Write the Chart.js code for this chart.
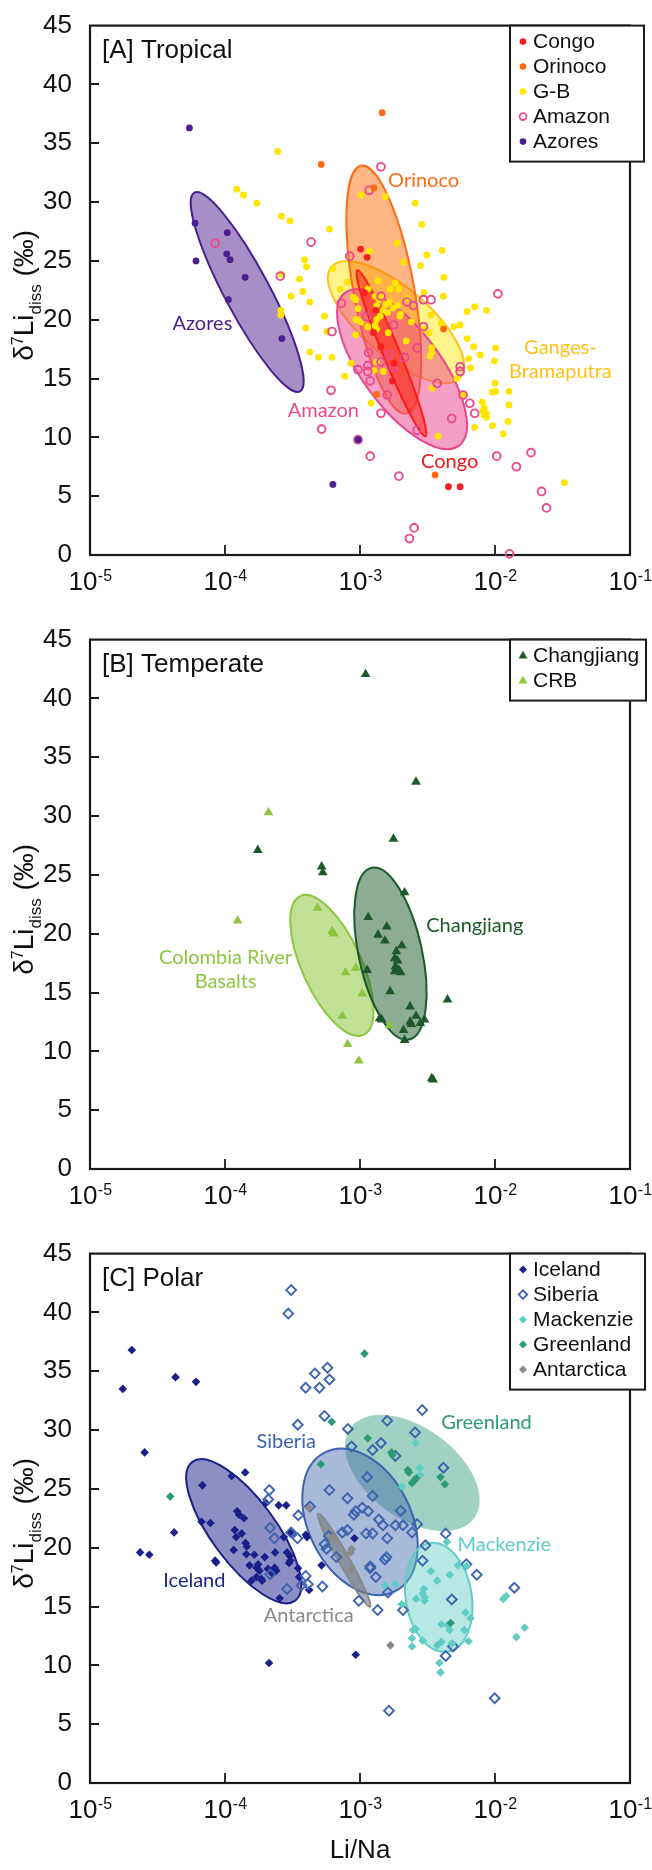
<!DOCTYPE html>
<html><head><meta charset="utf-8">
<script src="https://cdn.jsdelivr.net/npm/chart.js@4.4.1/dist/chart.umd.min.js"></script>
<style>
html,body{margin:0;padding:0;background:#fff;}
.panel{position:relative;width:652px;}
#wa,#wb{height:614px}
#wc{height:642px}
canvas{display:block}
</style></head><body>
<div class="panel" id="wa"><canvas id="ca"></canvas></div>
<div class="panel" id="wb"><canvas id="cb"></canvas></div>
<div class="panel" id="wc"><canvas id="cc"></canvas></div>
<script>
// ================= DATA =================
// Axes
const xTickValues = [1e-5, 1e-4, 1e-3, 1e-2, 1e-1];
const xTickExponents = ['-5', '-4', '-3', '-2', '-1'];
const yTickValues = [0, 5, 10, 15, 20, 25, 30, 35, 40, 45];

// ---- Panel A : Tropical ([Li/Na, d7Li]) ----
const congo = [[1.01e-3,26.0],[1.13e-3,25.3],[1.08e-3,22.3],[1.31e-3,20.8],[1.26e-3,18.9],[1.43e-3,17.7],
  [1.79e-3,16.3],[1.74e-3,14.8],[4.52e-3,5.8],[5.52e-3,5.8]];
const orinoco = [[1.46e-3,37.6],[5.16e-4,33.2],[1.27e-3,31.2],[4.16e-3,19.2],[1.33e-3,13.65],[3.6e-3,6.8]];
const gangesB = [[2.46e-4,34.3],[1.22e-4,31.1],[1.37e-4,30.6],[1.72e-4,29.9],[2.62e-4,28.8],[3.03e-4,28.4],[5.94e-4,27.7],
  [1.02e-3,30.6],[1.54e-3,30.45],[2.56e-3,29.9],[2.87e-3,28.1],[1.88e-3,26.5],[4.06e-3,25.9],[3.13e-3,25.5],
  [2.11e-3,24.9],[2.81e-3,24.6],[4.18e-3,23.6],[1.18e-3,25.8],[3.88e-4,25.1],[4.02e-4,24.5],[6.29e-4,24.35],
  [3.56e-4,23.45],[8.07e-4,23.2],[1.83e-3,23.1],[1.94e-3,22.6],[3.77e-4,22.4],[3.09e-4,22.0],[7.16e-4,22.6],
  [2.97e-3,22.3],[4.15e-3,22.0],[2.64e-4,23.85],[4.25e-4,21.5],[2.59e-4,20.8],[2.59e-4,20.4],[5.46e-4,20.3],
  [3.96e-4,19.3],[5.67e-4,19.0],[9.66e-4,20.95],[1.02e-3,19.8],[9.3e-4,18.7],[4.25e-4,17.25],[4.91e-4,16.8],
  [6.2e-4,16.8],[7.7e-4,15.2],[1.21e-3,12.9],[3.43e-3,14.2],[3.79e-3,10.1],[5.21e-3,15.0],[5.85e-3,13.65],
  [6.22e-3,20.7],[7.08e-3,21.1],[8.65e-3,20.8],[5.52e-3,19.55],[4.96e-3,19.4],[6.22e-3,18.4],[6.93e-3,17.7],
  [6.37e-3,16.7],[6.6e-3,15.9],[7.76e-3,17.0],[1.01e-2,17.6],[9.9e-3,16.5],[1.0e-2,14.6],[9.55e-3,13.85],
  [1.27e-2,13.9],[1.27e-2,12.75],[8.05e-3,13.0],[8.34e-3,12.5],[8.65e-3,12.0],[8.17e-3,12.25],[8.65e-3,11.7],
  [7.08e-3,10.85],[9.6e-3,11.0],[1.25e-2,11.35],[1.15e-2,10.3],[3.27e-2,6.15],[3.35e-3,20.4],[4.0e-3,19.7],
  [3.39e-3,17.6],[3.4e-3,17.2],[3.3e-3,16.9],[9.33e-4,21.7],[8.91e-4,21.9],[1.67e-3,22.6],
  [1.3e-3,22.0],[1.38e-3,21.7],[1.45e-3,21.9],[1.55e-3,21.3],[1.65e-3,21.5],[1.75e-3,21.0],[1.48e-3,20.8],
  [1.33e-3,21.2],[1.6e-3,20.6],[1.9e-3,21.2],[2.0e-3,20.5],[9.62e-4,20.0],[9.33e-4,20.0],[1.33e-3,20.0],
  [1.41e-3,20.3],[1.29e-3,19.5],[1.98e-3,20.3],[1.62e-3,18.9],[1.14e-3,19.4],[1.33e-3,19.2],[2.96e-3,19.2],
  [3.26e-3,18.9],[1.49e-3,15.6],[1.27e-3,15.7],[1.32e-3,16.4],[8.57e-4,16.3],[1.01e-2,13.9],[8.28e-3,11.9],
  [1.36e-3,23.3],[1.15e-3,22.6],[2.25e-3,21.8],[2.4e-3,19.8],[2.2e-3,18.2]];
const amazon = [[1.43e-3,33.0],[1.17e-3,31.0],[8.45e-5,26.5],[4.34e-4,26.6],[8.4e-4,25.4],[2.57e-4,23.7],[1.05e-2,22.2],
  [1.43e-3,22.0],[7.27e-4,21.4],[1.11e-3,20.25],[2.23e-3,21.5],[2.49e-3,21.2],[2.95e-3,21.7],[3.36e-3,21.7],
  [1.78e-3,19.55],[6.2e-4,19.0],[2.95e-3,19.4],[1.16e-3,17.2],[1.64e-3,17.0],[2.65e-3,17.6],[2.14e-3,16.8],
  [9.66e-4,15.75],[1.14e-3,16.1],[1.14e-3,15.6],[1.43e-3,16.4],[1.77e-3,15.95],[1.19e-3,14.8],[5.52e-3,16.0],
  [5.52e-3,15.6],[3.73e-3,14.6],[1.59e-3,13.6],[5.8e-3,13.6],[6.5e-3,12.9],[7.08e-3,12.05],[1.43e-3,12.05],
  [4.78e-3,11.6],[6.1e-4,14.0],[5.2e-4,10.7],[2.65e-3,10.6],[9.66e-4,9.8],[1.19e-3,8.4],[1.94e-3,6.7],
  [1.03e-2,8.4],[1.85e-2,8.7],[1.44e-2,7.5],[2.21e-2,5.4],[2.41e-2,4.0],[2.52e-3,2.3],[2.32e-3,1.4],[1.28e-2,0.1]];
const azores = [[5.45e-5,36.3],[6.0e-5,28.2],[6.1e-5,25.0],[1.04e-4,27.4],[1.03e-4,25.6],[1.09e-4,25.1],
  [1.41e-4,23.6],[1.06e-4,21.7],[2.64e-4,18.4],[6.3e-4,6.0],[9.7e-4,9.8]];

// ---- Panel B : Temperate ----
const changjiang = [[1.1e-3,42.05],[2.6e-3,32.9],[1.77e-3,28.06],[1.75e-4,27.1],[5.2e-4,25.7],[5.3e-4,25.2],
  [2.14e-3,23.5],[1.15e-3,21.4],[1.58e-3,20.6],[1.36e-3,19.9],[1.53e-3,19.4],[2.04e-3,19.0],[1.86e-3,18.5],
  [1.81e-3,17.9],[1.9e-3,17.7],[1.83e-3,17.2],[1.94e-3,16.9],[1.81e-3,16.8],[2.0e-3,16.7],[1.13e-3,16.9],
  [1.67e-3,15.1],[2.35e-3,13.8],[4.45e-3,14.4],[1.4e-3,12.8],[1.45e-3,12.7],[2.6e-3,13.0],[2.35e-3,12.5],
  [2.4e-3,12.3],[3.0e-3,12.7],[2.8e-3,12.4],[2.1e-3,11.8],[2.14e-3,10.95],[3.48e-3,7.6],[3.4e-3,7.7]];
const crb = [[2.1e-4,30.3],[1.24e-4,21.1],[4.84e-4,22.2],[6.2e-4,20.2],[6.4e-4,20.0],[7.8e-4,16.7],[9.3e-4,17.1],
  [1.04e-3,14.9],[7.4e-4,13.0],[1.66e-3,12.2],[8.1e-4,10.6],[9.8e-4,9.2]];

// ---- Panel C : Polar ----
const iceland = [[1.75e-5,33.5],[2.04e-5,36.8],[4.3e-5,34.5],[6.1e-5,34.1],[2.54e-5,28.1],[1.41e-4,26.4],[1.12e-4,26.1],
  [6.8e-5,25.3],[4.2e-5,21.3],[6.7e-5,22.2],[7.8e-5,22.1],[1.23e-4,23.1],[1.27e-4,22.8],[1.38e-4,22.5],
  [1.18e-4,21.5],[1.33e-4,21.2],[1.21e-4,20.9],[1.42e-4,20.4],[1.45e-4,20.1],[2.01e-4,23.8],[2.5e-4,23.6],
  [2.84e-4,23.6],[2.73e-4,20.9],[3.05e-4,21.3],[4.05e-4,20.9],[9.1e-4,20.8],[2.35e-5,19.6],[2.75e-5,19.4],
  [8.45e-5,18.9],[1.16e-4,19.8],[1.44e-4,19.45],[1.65e-4,19.4],[1.76e-4,18.6],[1.52e-4,18.5],[1.71e-4,18.3],
  [1.8e-4,18.05],[2.08e-4,18.2],[2.33e-4,18.3],[2.4e-4,18.05],[2.24e-4,17.8],[8.6e-5,18.75],[1.71e-4,17.5],
  [1.86e-4,17.35],[1.57e-4,17.2],[1.88e-4,17.2],[2.54e-4,15.7],[3.48e-4,18.25],[3.54e-4,17.5],[4.2e-4,16.4],
  [5.19e-4,18.5],[3.02e-4,19.3],[3.05e-4,18.9],[2.12e-4,10.2],[9.3e-4,10.9],[3.97e-4,21.1],
  [2.88e-4,19.6],[2.98e-4,18.7],[2.35e-4,19.6],[1.97e-4,19.2]];
const siberia = [[3.09e-4,41.9],[2.94e-4,39.9],[5.74e-4,35.3],[4.63e-4,34.8],[5.94e-4,34.3],[3.96e-4,33.6],[5.01e-4,33.6],
  [2.89e-3,31.7],[5.46e-4,31.2],[3.46e-4,30.45],[8.13e-4,30.1],[1.59e-3,30.8],[2.56e-3,29.8],[1.43e-3,28.9],
  [1.24e-3,28.3],[8.67e-4,28.6],[1.83e-3,27.8],[4.15e-3,26.8],[1.13e-3,26.0],[5.94e-4,24.9],[8.07e-4,24.2],
  [1.24e-3,24.4],[2.13e-4,24.9],[2.09e-4,24.1],[4.26e-4,23.5],[3.49e-4,22.75],[9.3e-4,23.1],[1.04e-3,23.4],
  [1.15e-3,23.1],[9.0e-4,22.8],[2.0e-3,23.15],[1.38e-3,22.4],[1.48e-3,21.9],[1.83e-3,21.9],[2.08e-3,21.9],
  [2.65e-3,22.0],[2.43e-3,21.3],[4.31e-3,21.2],[2.16e-4,21.7],[2.32e-4,20.8],[3.09e-4,21.3],[3.44e-4,20.8],
  [5.86e-4,21.0],[8.07e-4,21.5],[1.11e-3,21.2],[1.24e-3,21.2],[1.59e-3,20.8],[3.05e-3,20.2],[6.14e-3,18.6],
  [7.33e-3,17.7],[2.91e-3,18.9],[1.57e-3,19.2],[1.19e-3,18.4],[1.31e-3,17.5],[1.61e-3,16.2],[9.8e-4,15.5],
  [1.35e-3,14.7],[2.08e-3,14.7],[4.79e-3,15.6],[1.39e-2,16.6],[4.89e-3,11.6],[4.31e-3,10.8],[1.64e-3,6.15],
  [9.95e-3,7.2],[3.96e-4,17.6],[4.11e-4,16.9],[5.27e-4,16.7],[2.88e-4,16.5],[6.67e-4,19.2],[5.46e-4,20.3],
  [2.16e-4,17.75],[5.65e-4,19.9],[7.4e-4,21.3],[1.19e-3,18.25],[1.53e-3,19.0],[3.69e-4,16.8]];
const mackenzie = [[2.58e-3,28.9],[2.77e-3,26.8],[2.04e-3,25.2],[4.4e-3,20.5],[2.04e-3,15.2],[2.61e-3,15.65],
  [3.01e-3,15.5],[3.01e-3,15.8],[2.91e-3,16.1],[2.97e-3,16.5],[3.35e-3,18.0],[3.73e-3,17.2],[4.62e-3,17.7],
  [5.32e-3,18.5],[1.83e-3,16.9],[1.53e-3,16.8],[2.47e-3,13.0],[2.58e-3,13.1],[6.05e-3,14.5],[5.93e-3,13.0],
  [6.37e-3,12.05],[6.59e-3,14.0],[2.43e-3,12.3],[2.43e-3,11.6],[2.91e-3,12.1],[3.73e-3,11.7],[4.01e-3,12.0],
  [3.87e-3,10.2],[3.95e-3,9.4],[4.46e-3,13.4],[4.62e-3,13.0],[4.01e-3,13.5],[4.79e-3,11.85],[1.15e-2,15.65],
  [1.21e-2,15.9],[1.44e-2,12.4],[1.66e-2,13.2],[6.14e-3,18.45],[2.8e-3,26.2]];
const greenland = [[1.08e-3,36.5],[6.17e-4,30.7],[1.14e-3,29.3],[5.13e-4,27.1],[3.93e-5,24.35],[1.71e-3,28.1],
  [1.74e-3,27.9],[2.26e-3,26.6],[2.3e-3,26.4],[2.61e-3,25.9],[2.43e-3,25.5],[2.52e-3,25.7],[3.95e-3,26.0],
  [4.25e-3,25.4],[4.69e-3,13.6]];
const antarctica = [[1.68e-3,11.7],[8.67e-4,19.9],[8.67e-4,18.2],[4.2e-4,23.4],[6.27e-4,20.7],[8.53e-4,19.6],[6.29e-4,20.9]];

// Data ellipses: [centre Li/Na, centre d7Li, major-axis tip Li/Na, tip d7Li, minor/major ratio]
const ellGangesB   = [1.85e-3, 19.8, 6.17e-4, 24.5, 0.40];
const ellOrinoco   = [1.50e-3, 22.56, 1.02e-3, 33.1, 0.24];
const ellAmazon    = [2.05e-3, 15.8, 7.78e-4, 22.3, 0.41];
const ellCongo     = [1.71e-3, 17.14, 9.55e-4, 24.2, 0.092];
const ellAzores    = [1.46e-4, 22.35, 5.93e-5, 30.8, 0.20];
const ellCRB       = [6.19e-4, 17.3, 3.61e-4, 23.2, 0.39];
const ellChangjiang= [1.68e-3, 18.3, 1.22e-3, 25.6, 0.36];
const ellGreenland = [2.44e-3, 26.35, 8.5e-4, 30.2, 0.59];
const ellSiberia   = [1.0e-3, 22.2, 5.5e-4, 28.1, 0.66];
const ellIceland   = [1.377e-4, 21.4, 5.73e-5, 27.3, 0.37];
const ellMackenzie = [3.83e-3, 15.78, 3.29e-3, 20.4, 0.60];
const ellAntarctica= [7.63e-4, 18.94, 4.9e-4, 22.9, 0.10];

// In-plot labels: [text, Li/Na, d7Li]
const notesA = [['Orinoco',2.96e-3,31.8],['Azores',6.8e-5,19.65],['Ganges-',3.05e-2,17.65],['Bramaputra',3.05e-2,15.6],
  ['Amazon',5.35e-4,12.3],['Congo',4.62e-3,7.95]];
const notesB = [['Changjiang',7.08e-3,20.7],['Colombia River',1.01e-4,17.98],['Basalts',1.01e-4,15.9]];
const notesC = [['Greenland',8.65e-3,30.67],['Siberia',2.84e-4,29.0],['Mackenzie',1.17e-2,20.3],
  ['Iceland',5.93e-5,17.25],['Antarctica',4.17e-4,14.24]];

// ================= DRAWING =================
const FONT = '"Liberation Sans", Arial, Helvetica, sans-serif';
const LFONT = 'Lato, "Open Sans", sans-serif';
const pts = a => a.map(([x, y]) => ({x, y}));

function marker(ctx, style, x, y, r, color, hollow) {
  ctx.beginPath();
  if (style === 'circle') ctx.arc(x, y, r, 0, Math.PI * 2);
  else if (style === 'triangle') { ctx.moveTo(x, y - r * 1.1); ctx.lineTo(x + r, y + r * 0.65); ctx.lineTo(x - r, y + r * 0.65); ctx.closePath(); }
  else { ctx.moveTo(x, y - r); ctx.lineTo(x + r, y); ctx.lineTo(x, y + r); ctx.lineTo(x - r, y); ctx.closePath(); }
  if (hollow) { ctx.lineWidth = 1.8; ctx.strokeStyle = color; ctx.stroke(); }
  else { ctx.fillStyle = color; ctx.fill(); }
}

const customPlugin = {
  id: 'custom',
  beforeDatasetsDraw(chart, args, o) {
    const ctx = chart.ctx, xs = chart.scales.x, ys = chart.scales.y, ca = chart.chartArea;
    (o.ellipses || []).forEach(e => {
      const p = e.p;
      const cx = xs.getPixelForValue(p[0]), cy = ys.getPixelForValue(p[1]);
      const tx = xs.getPixelForValue(p[2]), ty = ys.getPixelForValue(p[3]);
      const a = Math.hypot(tx - cx, ty - cy), ang = Math.atan2(ty - cy, tx - cx), b = a * p[4];
      ctx.save(); ctx.beginPath(); ctx.ellipse(cx, cy, a, b, ang, 0, Math.PI * 2);
      ctx.fillStyle = e.fill; ctx.fill();
      if (e.stroke) { ctx.lineWidth = 2; ctx.strokeStyle = e.stroke; ctx.stroke(); }
      ctx.restore();
    });
    // frame + inward ticks
    ctx.save();
    ctx.strokeStyle = '#1a1a1a'; ctx.lineWidth = 2.2;
    ctx.strokeRect(ca.left, ca.top, ca.right - ca.left, ca.bottom - ca.top);
    ctx.lineWidth = 1.8; ctx.beginPath();
    xTickValues.slice(1, -1).forEach(v => { const px = Math.round(xs.getPixelForValue(v)); ctx.moveTo(px, ca.bottom); ctx.lineTo(px, ca.bottom - 10); });
    yTickValues.slice(1, -1).forEach(v => { const py = Math.round(ys.getPixelForValue(v)); ctx.moveTo(ca.left, py); ctx.lineTo(ca.left + 9, py); });
    ctx.stroke();
    // x tick labels 10^n
    ctx.fillStyle = '#111'; ctx.textBaseline = 'alphabetic'; ctx.textAlign = 'left';
    xTickValues.forEach((v, i) => {
      const px = xs.getPixelForValue(v);
      ctx.font = '26px ' + FONT; const w1 = ctx.measureText('10').width;
      ctx.font = '16px ' + FONT; const w2 = ctx.measureText(xTickExponents[i]).width;
      const s = px - (w1 + w2) / 2;
      ctx.font = '26px ' + FONT; ctx.fillText('10', s, ca.bottom + 34.5);
      ctx.font = '16px ' + FONT; ctx.fillText(xTickExponents[i], s + w1 + 0.5, ca.bottom + 25.5);
    });
    // y-axis title
    const cy = (ca.top + ca.bottom) / 2 + 5;
    ctx.translate(33, cy); ctx.rotate(-Math.PI / 2);
    const parts = [['δ', 28, 0], ['7', 16, -10.5], ['Li', 28, 0], ['diss', 17, 8], [' (‰)', 28, 0]];
    let tot = 0; parts.forEach(p => { ctx.font = p[1] + 'px ' + FONT; tot += ctx.measureText(p[0]).width; });
    let x0 = -tot / 2;
    parts.forEach(p => { ctx.font = p[1] + 'px ' + FONT; ctx.fillText(p[0], x0, p[2]); x0 += ctx.measureText(p[0]).width; });
    ctx.restore();
  },
  afterDatasetsDraw(chart, args, o) {
    const ctx = chart.ctx, xs = chart.scales.x, ys = chart.scales.y, ca = chart.chartArea;
    ctx.save();
    // in-plot labels
    ctx.textAlign = 'center'; ctx.textBaseline = 'middle'; ctx.font = '20px ' + LFONT;
    (o.notes || []).forEach(n => { ctx.fillStyle = n.color; ctx.fillText(n.t[0], xs.getPixelForValue(n.t[1]), ys.getPixelForValue(n.t[2])); });
    // panel title
    ctx.textAlign = 'left'; ctx.textBaseline = 'alphabetic'; ctx.fillStyle = '#111'; ctx.font = '26px ' + FONT;
    ctx.fillText(o.title, ca.left + 12, ca.top + 32);
    // legend box
    const L = o.legend, bx = ca.left + 420, by = ca.top, bw = L.w, bh = 11 + L.items.length * 25;
    ctx.fillStyle = '#fff'; ctx.fillRect(bx, by, bw, bh);
    ctx.strokeStyle = '#1a1a1a'; ctx.lineWidth = 2; ctx.strokeRect(bx, by, bw, bh);
    ctx.font = '21px ' + FONT; ctx.textBaseline = 'middle';
    L.items.forEach((it, i) => {
      const yy = by + 16 + i * 25;
      marker(ctx, it.style, bx + 13, yy, it.r, it.color, it.hollow);
      ctx.fillStyle = '#111'; ctx.fillText(it.label, bx + 23, yy + 1);
    });
    ctx.restore();
  }
};

function makeChart(id, datasets, plug, xHeight) {
  return new Chart(document.getElementById(id), {
    type: 'scatter',
    data: { datasets },
    options: {
      responsive: true, maintainAspectRatio: false, animation: false, devicePixelRatio: 1, events: [],
      layout: { padding: { top: 20, right: 22, left: 0, bottom: 0 }, autoPadding: false },
      plugins: { legend: { display: false }, tooltip: { enabled: false }, custom: plug },
      scales: {
        x: {
          type: 'logarithmic', min: 1e-5, max: 1e-1,
          grid: { display: false }, border: { display: false },
          ticks: { display: false },
          title: xHeight > 70 ? { display: true, text: 'Li/Na', color: '#111', font: { family: FONT, size: 26 }, padding: { top: 48 } } : { display: false },
          afterFit: s => { s.height = xHeight; }
        },
        y: {
          type: 'linear', min: 0, max: 45,
          grid: { display: false }, border: { display: false },
          ticks: { stepSize: 5, color: '#111', padding: 10, font: { family: FONT, size: 26 } },
          afterBuildTicks: s => { s.ticks = yTickValues.map(v => ({ value: v })); },
          afterFit: s => { s.width = 90; }
        }
      }
    },
    plugins: [customPlugin]
  });
}

function ds(label, arr, style, color, r, hollow, order) {
  return {
    label, data: pts(arr), pointStyle: style, pointRadius: r, order, clip: false,
    pointBackgroundColor: hollow ? 'rgba(0,0,0,0)' : color,
    pointBorderColor: color, pointBorderWidth: hollow ? 1.9 : 0
  };
}

// colours
const cCongo = '#f42020', cOrinoco = '#ff6a13', cGB = '#ffe500', cAmazon = '#ea4a8f', cAzores = '#4b1f8e';
const cChang = '#1c5a2a', cCRB = '#8cc63f';
const cIce = '#1b1f8a', cSib = '#3d64ae', cMack = '#60cdc4', cGreen = '#2b9a77', cAnt = '#8a8a8a';

makeChart('ca', [
  ds('G-B', gangesB, 'circle', cGB, 3.4, false, 5),
  ds('Amazon', amazon, 'circle', cAmazon, 3.9, true, 4),
  ds('Orinoco', orinoco, 'circle', cOrinoco, 3.4, false, 3),
  ds('Congo', congo, 'circle', cCongo, 3.4, false, 2),
  ds('Azores', azores, 'circle', cAzores, 3.4, false, 1)
], {
  title: '[A] Tropical',
  ellipses: [
    { p: ellGangesB, fill: 'rgba(255,228,0,0.45)', stroke: '#ffc116' },
    { p: ellOrinoco, fill: 'rgba(255,110,10,0.5)', stroke: '#ff6a13' },
    { p: ellAmazon, fill: 'rgba(236,63,140,0.5)', stroke: '#e8478c' },
    { p: ellCongo, fill: 'rgba(255,40,20,0.55)', stroke: '#ff1a1a' },
    { p: ellAzores, fill: 'rgba(75,31,142,0.5)', stroke: '#4b1f8e' }
  ],
  notes: [
    { t: notesA[0], color: '#ff6a13' }, { t: notesA[1], color: '#4b1f8e' }, { t: notesA[2], color: '#ffc116' },
    { t: notesA[3], color: '#ffc116' }, { t: notesA[4], color: '#ea4a8f' }, { t: notesA[5], color: '#f01818' }
  ],
  legend: { w: 134, items: [
    { label: 'Congo', style: 'circle', color: cCongo, r: 3.3 },
    { label: 'Orinoco', style: 'circle', color: cOrinoco, r: 3.3 },
    { label: 'G-B', style: 'circle', color: cGB, r: 3.3 },
    { label: 'Amazon', style: 'circle', color: cAmazon, r: 3.4, hollow: true },
    { label: 'Azores', style: 'circle', color: cAzores, r: 3.3 }
  ] }
}, 59);

makeChart('cb', [
  ds('CRB', crb, 'triangle', cCRB, 5.6, false, 2),
  ds('Changjiang', changjiang, 'triangle', cChang, 5.6, false, 1)
], {
  title: '[B] Temperate',
  ellipses: [
    { p: ellCRB, fill: 'rgba(140,198,63,0.55)', stroke: '#8cc63f' },
    { p: ellChangjiang, fill: 'rgba(28,90,42,0.5)', stroke: '#1c5a2a' }
  ],
  notes: [{ t: notesB[0], color: '#1c5a2a' }, { t: notesB[1], color: '#8cc63f' }, { t: notesB[2], color: '#8cc63f' }],
  legend: { w: 136, items: [
    { label: 'Changjiang', style: 'triangle', color: cChang, r: 4.4 },
    { label: 'CRB', style: 'triangle', color: cCRB, r: 4.4 }
  ] }
}, 59);

makeChart('cc', [
  ds('Antarctica', antarctica, 'rectRot', cAnt, 4.3, false, 1),
  ds('Greenland', greenland, 'rectRot', cGreen, 4.3, false, 2),
  ds('Mackenzie', mackenzie, 'rectRot', cMack, 4.3, false, 3),
  ds('Siberia', siberia, 'rectRot', cSib, 4.9, true, 4),
  ds('Iceland', iceland, 'rectRot', cIce, 4.3, false, 5)
], {
  title: '[C] Polar',
  ellipses: [
    { p: ellGreenland, fill: 'rgba(45,154,120,0.45)' },
    { p: ellSiberia, fill: 'rgba(61,100,174,0.45)', stroke: '#3d64ae' },
    { p: ellIceland, fill: 'rgba(27,31,138,0.5)', stroke: '#1b1f8a' },
    { p: ellMackenzie, fill: 'rgba(96,205,196,0.45)', stroke: '#60cdc4' },
    { p: ellAntarctica, fill: 'rgba(120,120,120,0.6)', stroke: '#888' }
  ],
  notes: [
    { t: notesC[0], color: '#2b9a77' }, { t: notesC[1], color: '#3d64ae' }, { t: notesC[2], color: '#60cdc4' },
    { t: notesC[3], color: '#1b1f8a' }, { t: notesC[4], color: '#8a8a8a' }
  ],
  legend: { w: 135, items: [
    { label: 'Iceland', style: 'diamond', color: cIce, r: 4 },
    { label: 'Siberia', style: 'diamond', color: cSib, r: 4.3, hollow: true },
    { label: 'Mackenzie', style: 'diamond', color: cMack, r: 4 },
    { label: 'Greenland', style: 'diamond', color: cGreen, r: 4 },
    { label: 'Antarctica', style: 'diamond', color: cAnt, r: 4 }
  ] }
}, 87);
</script>
</body></html>
